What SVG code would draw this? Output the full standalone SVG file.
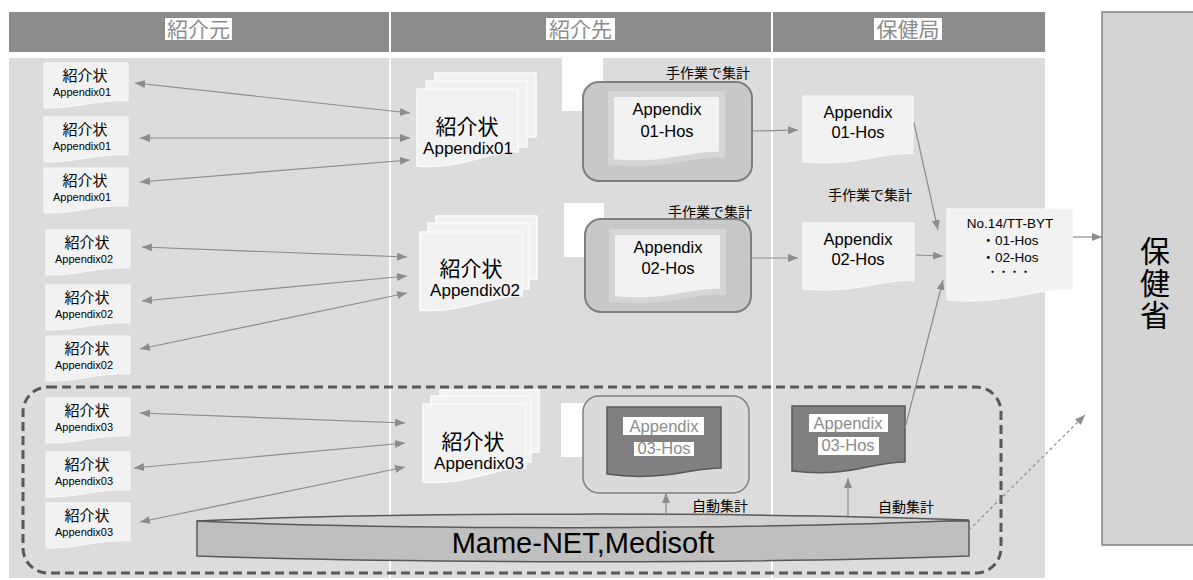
<svg xmlns="http://www.w3.org/2000/svg" width="1193" height="580" viewBox="0 0 1193 580">
<style>
.hdr{fill:#8c8c8c}
.panel{fill:#dcdcdc}
.htxt{font-family:"Noto Sans CJK JP",sans-serif;font-size:21px;fill:#8c8c8c;text-anchor:middle}
.doc{fill:#f2f2f2;stroke:#fafafa;stroke-width:1}
.page{fill:#f2f2f2;stroke:#fbfbfb;stroke-width:1.5}
.jp{font-family:"Noto Sans CJK JP",sans-serif;fill:#000;text-anchor:middle}
.en{font-family:"Liberation Sans","Noto Sans CJK JP",sans-serif;fill:#000;text-anchor:middle}
.s15{font-size:15px}.s11{font-size:11px}.s22{font-size:21px}.s17{font-size:17px}.s16{font-size:16.5px}
.lbl{font-family:"Noto Sans CJK JP",sans-serif;font-size:14px;fill:#000;text-anchor:end}
.box{fill:#c8c8c8;stroke:#7f7f7f;stroke-width:2}
.idoc{fill:#f2f2f2;stroke:#d5d5d5;stroke-width:6}
.ddoc{fill:#808080;stroke:#595959;stroke-width:1.5}
.hl{fill:#fff}
.gtx{font-family:"Liberation Sans",sans-serif;font-size:16.5px;fill:#8c8c8c;text-anchor:middle}
.ln{stroke:#8c8c8c;stroke-width:1.2;fill:none}
</style>
<defs>
<marker id="ah" viewBox="0 0 10 8" refX="10" refY="4" markerWidth="10" markerHeight="8" markerUnits="userSpaceOnUse" orient="auto-start-reverse">
<path d="M0,0 L10,4 L0,8 Z" fill="#8c8c8c"/>
</marker>
</defs>
<rect width="1193" height="580" fill="#fff"/>
<g id="headers">
<rect class="hdr" x="9" y="12" width="380" height="40"/>
<rect class="hdr" x="391" y="12" width="380" height="40"/>
<rect class="hdr" x="773" y="12" width="272" height="40"/>
<rect class="hl" x="165" y="18" width="67" height="22"/>
<text class="htxt" x="198.5" y="37">紹介元</text>
<rect class="hl" x="546" y="18" width="69" height="22"/>
<text class="htxt" x="580.5" y="37">紹介先</text>
<rect class="hl" x="874" y="18" width="68" height="22"/>
<text class="htxt" x="908" y="37">保健局</text>
</g>
<g id="panels">
<rect class="panel" x="9" y="58" width="380" height="520"/>
<rect class="panel" x="391" y="58" width="380" height="520"/>
<rect class="panel" x="773" y="58" width="272" height="520"/>
</g>
<g id="group3-frame">
<rect x="23" y="387" width="978" height="186" rx="25" fill="none" stroke="#595959" stroke-width="3" stroke-dasharray="9 5"/>
</g>
<g id="moh">
<rect x="1102" y="12" width="100" height="533" fill="#d4d4d4" stroke="#808080" stroke-width="1.5"/>
<text x="1155" y="236" font-family="Noto Sans CJK JP, sans-serif" font-size="30" fill="#000" writing-mode="vertical-rl" letter-spacing="2">保健省</text>
</g>
<g id="src-docs">
<g id="src1"><path class="doc" d="M44 63 H128 V101 C99 99 74 109 44 108 Z"/><text class="jp s15" x="85" y="81">紹介状</text><text class="en s11" x="82" y="96">Appendix01</text></g>
<g id="src2"><path class="doc" d="M44 117 H128 V155 C99 153 74 163 44 162 Z"/><text class="jp s15" x="85" y="135">紹介状</text><text class="en s11" x="82" y="150">Appendix01</text></g>
<g id="src3"><path class="doc" d="M44 168 H128 V206 C99 204 74 214 44 213 Z"/><text class="jp s15" x="85" y="186">紹介状</text><text class="en s11" x="82" y="201">Appendix01</text></g>
<g id="src4"><path class="doc" d="M46 230 H130 V268 C101 266 76 276 46 275 Z"/><text class="jp s15" x="87" y="248">紹介状</text><text class="en s11" x="84" y="263">Appendix02</text></g>
<g id="src5"><path class="doc" d="M46 285 H130 V323 C101 321 76 331 46 330 Z"/><text class="jp s15" x="87" y="303">紹介状</text><text class="en s11" x="84" y="318">Appendix02</text></g>
<g id="src6"><path class="doc" d="M46 336 H130 V374 C101 372 76 382 46 381 Z"/><text class="jp s15" x="87" y="354">紹介状</text><text class="en s11" x="84" y="369">Appendix02</text></g>
<g id="src7"><path class="doc" d="M46 398 H130 V436 C101 434 76 444 46 443 Z"/><text class="jp s15" x="87" y="416">紹介状</text><text class="en s11" x="84" y="431">Appendix03</text></g>
<g id="src8"><path class="doc" d="M46 452 H130 V490 C101 488 76 498 46 497 Z"/><text class="jp s15" x="87" y="470">紹介状</text><text class="en s11" x="84" y="485">Appendix03</text></g>
<g id="src9"><path class="doc" d="M46 503 H130 V541 C101 539 76 549 46 548 Z"/><text class="jp s15" x="87" y="521">紹介状</text><text class="en s11" x="84" y="536">Appendix03</text></g>
</g>
<g id="stack1">
<rect class="page" x="435" y="73" width="101" height="64"/>
<rect class="page" x="426" y="81" width="101" height="66"/>
<path class="page" d="M417 89 H518 V152 C490 150 460 170 417 166 Z"/>
<text class="jp s22" x="467" y="134">紹介状</text>
<text class="en s17" x="468" y="154">Appendix01</text>
</g>
<g id="stack2">
<rect class="page" x="436" y="216" width="101" height="63"/>
<rect class="page" x="428" y="223" width="101" height="66"/>
<path class="page" d="M420 232 H522 V296 C493 294 462 314 420 310 Z"/>
<text class="jp s22" x="471" y="276">紹介状</text>
<text class="en s17" x="475" y="296">Appendix02</text>
</g>
<g id="stack3">
<rect class="page" x="440" y="390" width="99" height="62"/>
<rect class="page" x="431" y="396" width="100" height="66"/>
<path class="page" d="M423 404 H526 V468 C497 466 466 486 423 482 Z"/>
<text class="jp s22" x="473" y="449">紹介状</text>
<text class="en s17" x="479" y="469">Appendix03</text>
</g>
<g id="blank1"><rect x="562" y="57" width="41" height="54" fill="#fff"/></g>
<g id="blank2"><rect x="564" y="203" width="40" height="54" fill="#fff"/></g>
<g id="blank3"><rect x="561" y="403" width="41" height="54" fill="#fff"/></g>
<g id="hos01">
<text class="lbl" x="750" y="78">手作業で集計</text>
<rect class="box" x="583" y="82" width="169" height="99" rx="16"/>
<path class="idoc" d="M611 94 H722 V155 C695 152 665 168 611 162 Z"/>
<text class="en s16" x="667" y="115">Appendix</text>
<text class="en s16" x="667" y="137">01-Hos</text>
</g>
<g id="hos02">
<text class="lbl" x="752" y="217">手作業で集計</text>
<rect class="box" x="585" y="219" width="166" height="93" rx="16"/>
<path class="idoc" d="M612 232 H723 V292 C696 289 666 305 612 299 Z"/>
<text class="en s16" x="668" y="253">Appendix</text>
<text class="en s16" x="668" y="274">02-Hos</text>
</g>
<g id="hos03">
<rect x="583" y="396" width="166" height="97" rx="16" fill="#dadada" stroke="#7f7f7f" stroke-width="1.5"/>
<path class="ddoc" d="M607 407 H721 V468 C690 468 660 482 607 474 Z"/>
<rect class="hl" x="623" y="417" width="81" height="18"/>
<rect class="hl" x="634" y="442" width="60" height="14"/>
<text class="gtx" x="664" y="432">Appendix</text>
<text class="gtx" x="664" y="454">03-Hos</text>
<text class="lbl" x="748" y="511">自動集計</text>
</g>
<g id="dept01">
<path class="doc" d="M803 96 H913 V154 C885 151 855 167 803 162 Z"/>
<text class="en s16" x="858" y="118">Appendix</text>
<text class="en s16" x="858" y="138">01-Hos</text>
</g>
<text class="lbl" x="912" y="200">手作業で集計</text>
<g id="dept02">
<path class="doc" d="M803 223 H914 V281 C886 278 856 294 803 289 Z"/>
<text class="en s16" x="858" y="245">Appendix</text>
<text class="en s16" x="858" y="265">02-Hos</text>
</g>
<g id="dept03">
<path class="ddoc" d="M792 406 H905 V462 C870 462 850 478 792 471 Z"/>
<rect class="hl" x="809" y="414" width="79" height="18"/>
<rect class="hl" x="818" y="437" width="61" height="18"/>
<text class="gtx" x="848" y="429">Appendix</text>
<text class="gtx" x="848" y="451">03-Hos</text>
<text class="lbl" x="934" y="512">自動集計</text>
</g>
<g id="no14">
<path class="doc" d="M947 209 H1073 V290 C1040 287 1000 306 947 300 Z"/>
<text class="en" x="1010" y="228" font-size="13.5">No.14/TT-BYT</text>
<text class="en" x="1010" y="245" font-size="13.5">・01-Hos</text>
<text class="en" x="1010" y="262" font-size="13.5">・02-Hos</text>
<text class="en" x="1009" y="276" font-size="11">・・・・</text>
</g>
<g id="db">
<path d="M197 521 V556 C400 563 750 564 969 556 V521 Z" fill="#bfbfbf" stroke="#595959" stroke-width="1.5"/>
<path d="M197 521 C400 512 750 512 969 520 C750 530 400 530 197 521 Z" fill="#d2d2d2" stroke="#595959" stroke-width="1.5"/>
<text class="en" x="583" y="553" font-size="29">Mame-NET,Medisoft</text>
</g>
<g id="connectors">
<line class="ln" x1="135" y1="83" x2="410" y2="113" marker-start="url(#ah)" marker-end="url(#ah)"/>
<line class="ln" x1="140" y1="138" x2="410" y2="138" marker-start="url(#ah)" marker-end="url(#ah)"/>
<line class="ln" x1="140" y1="182" x2="410" y2="160" marker-start="url(#ah)" marker-end="url(#ah)" stroke="#b0b0b0"/>
<line class="ln" x1="142" y1="247" x2="407" y2="257" marker-start="url(#ah)" marker-end="url(#ah)"/>
<line class="ln" x1="142" y1="301" x2="407" y2="276" marker-start="url(#ah)" marker-end="url(#ah)" stroke="#b0b0b0"/>
<line class="ln" x1="140" y1="349" x2="407" y2="293" marker-start="url(#ah)" marker-end="url(#ah)"/>
<line class="ln" x1="140" y1="413" x2="405" y2="423" marker-start="url(#ah)" marker-end="url(#ah)"/>
<line class="ln" x1="134" y1="468" x2="405" y2="443" marker-start="url(#ah)" marker-end="url(#ah)"/>
<line class="ln" x1="140" y1="522" x2="405" y2="467" marker-start="url(#ah)" marker-end="url(#ah)"/>
<line class="ln" x1="752" y1="131" x2="798" y2="130" marker-end="url(#ah)"/>
<line class="ln" x1="751" y1="258" x2="798" y2="258" marker-end="url(#ah)"/>
<line class="ln" x1="914" y1="123" x2="938" y2="230" marker-end="url(#ah)"/>
<line class="ln" x1="916" y1="255" x2="943" y2="256" marker-end="url(#ah)"/>
<line class="ln" x1="905" y1="428" x2="943" y2="280" marker-end="url(#ah)"/>
<line class="ln" x1="1073" y1="237" x2="1102" y2="237" marker-end="url(#ah)"/>
<line class="ln" x1="666" y1="516" x2="666" y2="493" marker-end="url(#ah)"/>
<line class="ln" x1="848" y1="518" x2="848" y2="478" marker-end="url(#ah)"/>
<line class="ln" x1="969" y1="530" x2="1085" y2="415" stroke-dasharray="3 3" stroke-width="1" marker-end="url(#ah)"/>
</g>
</svg>
